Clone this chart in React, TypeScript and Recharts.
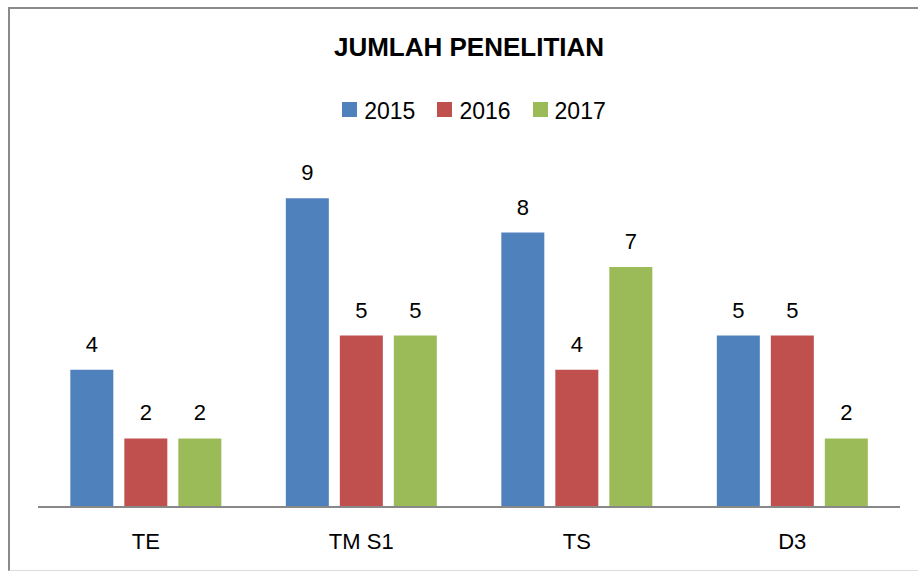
import React from 'react';
import { BarChart, Bar, XAxis, YAxis, LabelList } from 'recharts';

const categories = ['TE', 'TM S1', 'TS', 'D3'];
const values2015 = [4, 9, 8, 5];
const values2016 = [2, 5, 4, 5];
const values2017 = [2, 5, 7, 2];
const seriesNames = ['2015', '2016', '2017'];
const seriesColors = ['#4F81BD', '#C0504D', '#9BBB59'];
const title = 'JUMLAH PENELITIAN';

const data = categories.map((c, i) => ({
  name: c,
  '2015': values2015[i],
  '2016': values2016[i],
  '2017': values2017[i],
}));

const FONT = '"Liberation Sans", Arial, sans-serif';

export default function App() {
  return (
    <div style={{ position: 'absolute', left: 0, top: 0, width: 918, height: 573, background: '#fff', fontFamily: FONT, overflow: 'hidden' }}>
      <div
        style={{
          position: 'absolute',
          left: 8,
          top: 7,
          width: 920,
          height: 564,
          borderLeft: '2px solid #8a8a8a',
          borderTop: '2px solid #8a8a8a',
          borderBottom: '1px solid #dcdcdc',
          boxSizing: 'border-box',
        }}
      />
      <svg style={{ position: 'absolute', left: 0, top: 0 }} width={918} height={70}>
        <text x={469} y={56} textAnchor="middle" fontFamily={FONT} fontWeight="bold" fontSize={26} fill="#000">
          {title}
        </text>
      </svg>
      <div
        style={{
          position: 'absolute',
          left: 0,
          top: 100,
          width: 918,
          display: 'flex',
          justifyContent: 'center',
          paddingLeft: 30,
          boxSizing: 'border-box',
        }}
      >
        {seriesNames.map((s, i) => (
          <div key={s} style={{ display: 'flex', alignItems: 'flex-start', marginRight: i < seriesNames.length - 1 ? 22 : 0 }}>
            <div style={{ width: 15, height: 15, marginTop: 2, marginRight: 7, background: seriesColors[i] }} />
            <span style={{ fontSize: 23, lineHeight: '22px', color: '#000', fontFamily: FONT }}>{s}</span>
          </div>
        ))}
      </div>
      <div style={{ position: 'absolute', left: 0, top: 0 }}>
        <BarChart
          width={918}
          height={573}
          data={data}
          margin={{ top: 164, right: 18, left: 38, bottom: 26 }}
          barCategoryGap="15%"
          barGap={11}
        >
          <XAxis
            dataKey="name"
            height={40}
            axisLine={{ stroke: '#888888', strokeWidth: 2 }}
            tickLine={false}
            tickSize={0}
            tickMargin={26}
            tick={{ fill: '#000', fontSize: 22, fontFamily: FONT }}
            interval={0}
          />
          <YAxis hide domain={[0, 10]} />
          {seriesNames.map((s, i) => (
            <Bar key={s} dataKey={s} fill={seriesColors[i]} isAnimationActive={false}>
              <LabelList dataKey={s} position="top" offset={18} fill="#000" fontSize={22} fontFamily={FONT} />
            </Bar>
          ))}
        </BarChart>
      </div>
    </div>
  );
}
